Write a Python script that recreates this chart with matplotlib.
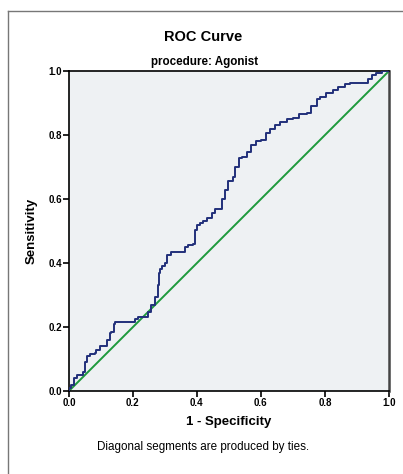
"""ROC curve for the Agonist procedure, SPSS-style."""
import matplotlib
matplotlib.use('Agg')
import matplotlib.pyplot as plt
from matplotlib.lines import Line2D

# ROC vertices
fpr = [0.0, 0.005, 0.015, 0.024, 0.034, 0.045, 0.05, 0.055, 0.066, 0.08,
       0.085, 0.097, 0.11, 0.12, 0.128, 0.133, 0.14, 0.144, 0.15, 0.206,
       0.216, 0.237, 0.247, 0.258, 0.269, 0.278, 0.282, 0.284, 0.29, 0.3,
       0.305, 0.32, 0.331, 0.3625, 0.372, 0.388, 0.394, 0.4, 0.41, 0.42,
       0.43, 0.446, 0.456, 0.477, 0.4875, 0.497, 0.513, 0.52, 0.53, 0.54,
       0.555, 0.57, 0.586, 0.6, 0.617, 0.628, 0.644, 0.66, 0.68, 0.70,
       0.72, 0.743, 0.758, 0.774, 0.784, 0.805, 0.825, 0.84, 0.862, 0.88,
       0.90, 0.936, 0.946, 0.96, 0.98, 0.99, 1.0]
tpr = [0.0, 0.01, 0.02, 0.04, 0.05, 0.05, 0.06, 0.09, 0.11, 0.115,
       0.12, 0.128, 0.14, 0.14, 0.16, 0.18, 0.185, 0.21, 0.215, 0.215,
       0.225, 0.23, 0.232, 0.248, 0.27, 0.295, 0.33, 0.37, 0.38, 0.39,
       0.40, 0.425, 0.435, 0.435, 0.45, 0.456, 0.46, 0.503, 0.52, 0.525,
       0.53, 0.54, 0.556, 0.57, 0.60, 0.628, 0.655, 0.67, 0.70, 0.728,
       0.732, 0.748, 0.769, 0.78, 0.784, 0.806, 0.82, 0.83, 0.84, 0.85,
       0.854, 0.866, 0.87, 0.89, 0.912, 0.92, 0.93, 0.94, 0.95, 0.96,
       0.963, 0.963, 0.974, 0.9875, 0.995, 1.0, 1.0]
ref_line = [0.0, 1.0]
ticks = [0.0, 0.2, 0.4, 0.6, 0.8, 1.0]

plt.rcParams['font.family'] = ['Liberation Sans', 'DejaVu Sans']

fig = plt.figure(figsize=(4.03, 4.74), dpi=100)
ax = fig.add_axes([0.171, 0.175, 0.794, 0.675])
ax.set_facecolor('#eef1f3')

ax.plot(ref_line, ref_line, color='#1e9a3c', linewidth=1.4, zorder=2)
ax.plot(fpr, tpr, color='#22307a', linewidth=1.4, zorder=3,
        drawstyle='steps-pre')

ax.set_xlim(0, 1)
ax.set_ylim(0, 1)
ax.set_xticks(ticks)
ax.set_yticks(ticks)
ax.set_xticklabels([f'{t:.1f}' for t in ticks], fontsize=7, fontweight='bold')
ax.set_yticklabels([f'{t:.1f}' for t in ticks], fontsize=7, fontweight='bold')
ax.tick_params(direction='out', length=4, width=1.2, pad=1, color='black')

for side in ['left', 'bottom', 'top']:
    ax.spines[side].set_linewidth(1.2)
    ax.spines[side].set_color('black')
ax.spines['right'].set_linewidth(1.8)
ax.spines['right'].set_color('#444444')

ax.set_xlabel('1 - Specificity', fontsize=9.5, fontweight='bold', labelpad=6)
ax.set_ylabel('Sensitivity', fontsize=9.5, fontweight='bold', labelpad=8)

fig.text(0.505, 0.922, 'ROC Curve', fontsize=10.5, fontweight='bold',
         ha='center', va='center')
fig.text(0.507, 0.869, 'procedure: Agonist', fontsize=8.4, fontweight='bold',
         ha='center', va='center')
fig.text(0.504, 0.057, 'Diagonal segments are produced by ties.',
         fontsize=8.4, ha='center', va='center')

# outer chart frame (runs off the right and bottom of the image)
fig.add_artist(Line2D([0.02, 0.02], [0.0, 0.977], color='#777777',
                      linewidth=1.0, transform=fig.transFigure))
fig.add_artist(Line2D([0.02, 1.0], [0.977, 0.977], color='#777777',
                      linewidth=1.0, transform=fig.transFigure))

fig.savefig('out.png', dpi=100)
